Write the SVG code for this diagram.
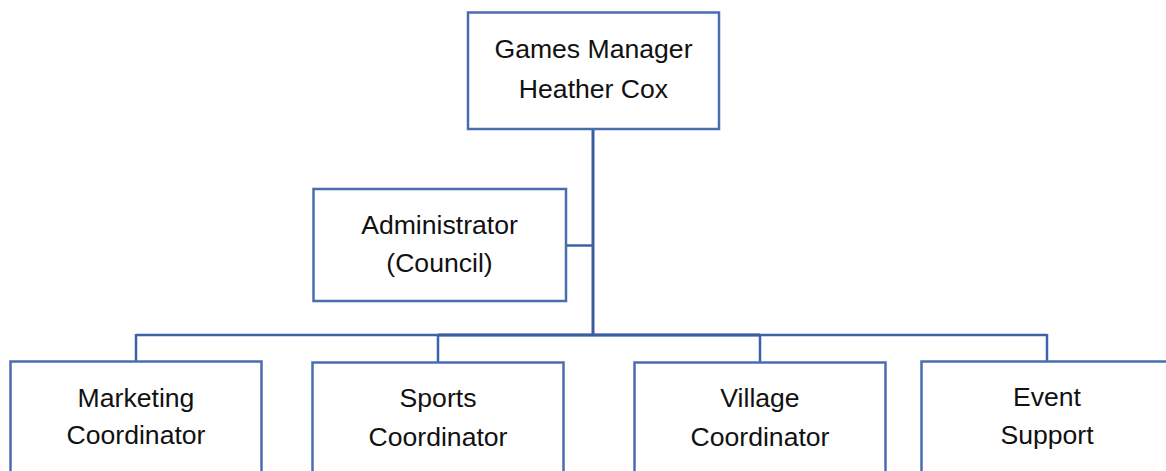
<svg xmlns="http://www.w3.org/2000/svg" width="1166" height="471" viewBox="0 0 1166 471">
  <style>
    .box { fill: #ffffff; stroke: #4a6db0; stroke-width: 2.5; }
    .lbl { font-family: "Liberation Sans", Arial, sans-serif; font-size: 26.6px; fill: #111111; text-anchor: middle; }
    .wire { fill: none; stroke: #3f62a6; stroke-width: 2.5; }
    .trunk { fill: none; stroke: #3a5da3; stroke-width: 3; }
  </style>
  <rect width="1166" height="471" fill="#ffffff"/>

  <!-- reporting lines -->
  <g id="connectors">
    <path class="trunk" d="M593 129 V335"/>
    <path class="wire" d="M566 245.5 H593"/>
    <path class="wire" d="M136 335 H1047"/>
    <path class="trunk" d="M438 335 H760"/>
    <path class="wire" d="M136 334 V362"/>
    <path class="wire" d="M438 334 V362"/>
    <path class="wire" d="M760 334 V362"/>
    <path class="wire" d="M1047 334 V362"/>
  </g>

  <g id="games-manager">
    <rect class="box" x="468" y="12.5" width="251" height="116.5"/>
    <text class="lbl" x="593.5" y="58">Games Manager</text>
    <text class="lbl" x="593.5" y="98">Heather Cox</text>
  </g>

  <g id="administrator">
    <rect class="box" x="313.5" y="189" width="252.5" height="112"/>
    <text class="lbl" x="439.5" y="234">Administrator</text>
    <text class="lbl" x="439.5" y="272">(Council)</text>
  </g>

  <g id="marketing-coordinator">
    <rect class="box" x="10.5" y="361.5" width="251" height="120"/>
    <text class="lbl" x="136" y="407">Marketing</text>
    <text class="lbl" x="136" y="444">Coordinator</text>
  </g>

  <g id="sports-coordinator">
    <rect class="box" x="312.5" y="362.5" width="251" height="120"/>
    <text class="lbl" x="438" y="407">Sports</text>
    <text class="lbl" x="438" y="446">Coordinator</text>
  </g>

  <g id="village-coordinator">
    <rect class="box" x="634.5" y="362.5" width="251" height="120"/>
    <text class="lbl" x="760" y="407">Village</text>
    <text class="lbl" x="760" y="446">Coordinator</text>
  </g>

  <g id="event-support">
    <rect class="box" x="921.5" y="361.5" width="251" height="120"/>
    <text class="lbl" x="1047" y="406">Event</text>
    <text class="lbl" x="1047" y="444">Support</text>
  </g>
</svg>
